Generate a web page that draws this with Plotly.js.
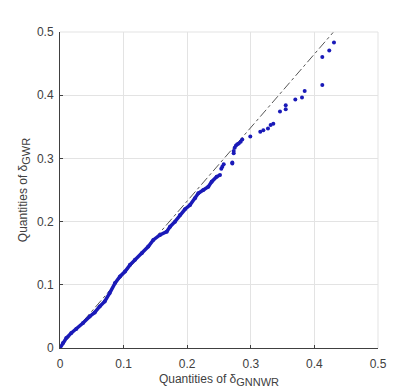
<!DOCTYPE html>
<html>
<head>
<meta charset="utf-8">
<script src="https://cdn.plot.ly/plotly-3.0.1.min.js"></script>
<style>
  html, body { margin: 0; padding: 0; background: #fff; }
  #chart { width: 419px; height: 392px; }
</style>
</head>
<body>
<div id="chart"></div>
<script>
// dense part of the Q-Q plot (points overlap into a thick line)
const denseX = [0, 0.0047, 0.0099, 0.0178, 0.0256, 0.0362, 0.0467, 0.0546, 0.0624, 0.0703,
  0.0781, 0.0865, 0.0943, 0.1022, 0.1101, 0.1179, 0.1285, 0.1388, 0.1467, 0.1572,
  0.1678, 0.1730, 0.1808, 0.1887, 0.1965, 0.2044, 0.2123, 0.2175, 0.2253, 0.2332,
  0.2385, 0.2464, 0.2516];
const denseY = [0, 0.0079, 0.0158, 0.0237, 0.0300, 0.0395, 0.0499, 0.0562, 0.0657, 0.0736,
  0.0869, 0.1027, 0.1131, 0.1210, 0.1316, 0.1395, 0.1500, 0.1605, 0.1710, 0.1789,
  0.1841, 0.1920, 0.1999, 0.2105, 0.2195, 0.2263, 0.2369, 0.2448, 0.2500, 0.2552,
  0.2631, 0.2710, 0.2737];

// upper tail, single points
const tailX = [0.2536, 0.2552, 0.2574, 0.2709, 0.2709, 0.2731, 0.2731, 0.2747, 0.2767, 0.2788,
  0.2810, 0.2841, 0.2866, 0.2992, 0.3149, 0.3197, 0.3270, 0.3312, 0.3354, 0.3459,
  0.3549, 0.3549, 0.3700, 0.3805, 0.3847, 0.4124, 0.4124, 0.4234, 0.4308];
const tailY = [0.2836, 0.2868, 0.2906, 0.2918, 0.2937, 0.3080, 0.3116, 0.3168, 0.3206, 0.3222,
  0.3237, 0.3263, 0.3301, 0.3348, 0.3421, 0.3447, 0.3474, 0.3527, 0.3547, 0.3743,
  0.3779, 0.3842, 0.3932, 0.3964, 0.4068, 0.4163, 0.4605, 0.4706, 0.4833];

// reference line endpoints
const refX = [0, 0.43];
const refY = [0, 0.5];

const ticks = [0, 0.1, 0.2, 0.3, 0.4, 0.5];
const tickText = ['0', '0.1', '0.2', '0.3', '0.4', '0.5'];

const blue = '#1a1ab8';
const fontFam = 'Liberation Sans, Arial, sans-serif';

const traces = [
  {
    x: refX, y: refY, type: 'scatter', mode: 'lines',
    line: {color: '#555555', width: 1, dash: 'dashdot'},
    hoverinfo: 'skip'
  },
  {
    x: denseX, y: denseY, type: 'scatter', mode: 'lines+markers',
    line: {color: blue, width: 3.5},
    marker: {color: blue, size: 4}
  },
  {
    x: tailX, y: tailY, type: 'scatter', mode: 'markers',
    marker: {color: blue, size: 4}
  }
];

const axisBase = {
  range: [0, 0.5],
  tickvals: ticks,
  ticktext: tickText,
  showgrid: true,
  gridcolor: '#e3e3e3',
  gridwidth: 1,
  zeroline: false,
  showline: true,
  linecolor: '#404040',
  linewidth: 1,
  ticks: 'inside',
  ticklen: 3,
  tickcolor: '#404040',
  tickfont: {family: fontFam, size: 12, color: '#404040'},
  fixedrange: true
};

const layout = {
  width: 419,
  height: 392,
  margin: {l: 60, r: 41, t: 32, b: 44},
  paper_bgcolor: '#ffffff',
  plot_bgcolor: '#ffffff',
  showlegend: false,
  xaxis: Object.assign({}, axisBase, {
    ticklabelstandoff: 5,
    title: {text: 'Quantities of δ<sub><span style="font-size:11px">GNNWR</span></sub>', standoff: 4,
      font: {family: fontFam, size: 12, color: '#404040'}}
  }),
  yaxis: Object.assign({}, axisBase, {
    ticklabelstandoff: 3,
    title: {text: 'Quantities of δ<sub><span style="font-size:11px">GWR</span></sub>', standoff: 6,
      font: {family: fontFam, size: 12, color: '#404040'}}
  }),
  shapes: [
    // faint top and right edge grid lines at 0.5
    {type: 'line', xref: 'paper', yref: 'paper', x0: 0, x1: 1, y0: 1, y1: 1,
      line: {color: '#e3e3e3', width: 1}},
    {type: 'line', xref: 'paper', yref: 'paper', x0: 1, x1: 1, y0: 0, y1: 1,
      line: {color: '#e3e3e3', width: 1}}
  ]
};

Plotly.newPlot('chart', traces, layout, {displayModeBar: false, staticPlot: true});
</script>
</body>
</html>
